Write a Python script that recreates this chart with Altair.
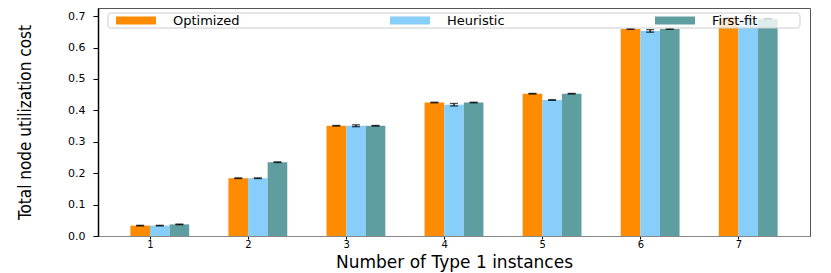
import altair as alt
import pandas as pd

instances = [1, 2, 3, 4, 5, 6, 7]
series = ["Optimized", "Heuristic", "First-fit"]
colors = ["#FF8C00", "#87CEFA", "#5F9EA0"]

optimized = [0.033, 0.184, 0.351, 0.425, 0.453, 0.659, 0.694]
heuristic = [0.033, 0.184, 0.351, 0.418, 0.433, 0.653, 0.690]
first_fit = [0.037, 0.235, 0.351, 0.425, 0.453, 0.659, 0.692]

err_optimized = [0.001, 0.001, 0.001, 0.001, 0.001, 0.001, 0.001]
err_heuristic = [0.001, 0.001, 0.003, 0.004, 0.001, 0.004, 0.001]
err_first_fit = [0.001, 0.001, 0.001, 0.001, 0.001, 0.001, 0.001]

y_ticks = [0.0, 0.1, 0.2, 0.3, 0.4, 0.5, 0.6, 0.7]

rows = []
for si, (name, vals, errs) in enumerate(zip(series, [optimized, heuristic, first_fit],
                                            [err_optimized, err_heuristic, err_first_fit])):
    for n, v, e in zip(instances, vals, errs):
        rows.append({"n": n, "series": name, "idx": si, "value": v, "err": e})
df = pd.DataFrame(rows)

base = alt.Chart(df).transform_calculate(
    x0="datum.n + (datum.idx - 1) * 0.2",
    x1="datum.n + datum.idx * 0.2",
    xc="datum.n + (datum.idx - 0.5) * 0.2",
    lo="datum.value - datum.err",
    hi="datum.value + datum.err",
    zero="0",
)

xscale = alt.Scale(domain=[0.47, 7.73], nice=False, zero=False)
yscale = alt.Scale(domain=[0, 0.726], nice=False)

xaxis = alt.Axis(values=instances, format="d", title="Number of Type 1 instances",
                 grid=False, tickSize=3, labelFontSize=10, labelPadding=0,
                 titleFontSize=17, titleFont="DejaVu Sans", titleFontWeight="normal",
                 titleColor="#000", titleY=31, titleBaseline="alphabetic",
                 domainColor="#888", tickColor="#000",
                 labelFont="DejaVu Sans", labelColor="#000")
yaxis = alt.Axis(values=y_ticks, format=".1f", title="Total node utilization cost",
                 grid=False, tickSize=5, labelFontSize=11, labelPadding=8,
                 labelFont="DejaVu Sans", labelColor="#000", labelOverlap=False,
                 titleFont="Liberation Sans Narrow, DejaVu Sans Condensed, sans-serif",
                 titleFontSize=17, titleFontWeight="normal", titleColor="#000",
                 titleX=-64, titleY=114, titleAngle=270, titleBaseline="bottom",
                 titleAlign="center",
                 domainColor="#000", domainWidth=1.5, tickColor="#000")

bars = base.mark_rect().encode(
    x=alt.X("x0:Q", scale=xscale, axis=xaxis),
    x2="x1:Q",
    y=alt.Y("value:Q", scale=yscale, axis=yaxis),
    y2="zero:Q",
    color=alt.Color("series:N", scale=alt.Scale(domain=series, range=colors),
                    legend=alt.Legend(title=None, orient="none", legendX=18, legendY=-7.5,
                                      direction="horizontal", columns=3, columnPadding=150,
                                      symbolType="M-1,-0.2H1V0.2H-1Z", symbolSize=1600,
                                      symbolStrokeWidth=0, symbolOpacity=1, symbolOffset=0,
                                      labelFontSize=13, labelFont="DejaVu Sans", labelOffset=17,
                                      labelColor="#000", padding=0)),
)

errs = base.mark_rule(color="black", strokeWidth=1.2).encode(
    x=alt.X("xc:Q", scale=xscale, axis=xaxis),
    y=alt.Y("lo:Q", scale=yscale, axis=yaxis),
    y2="hi:Q",
)
cap_hi = base.mark_tick(color="black", orient="horizontal", size=8, thickness=1.3).encode(
    x=alt.X("xc:Q", scale=xscale, axis=xaxis),
    y=alt.Y("hi:Q", scale=yscale, axis=yaxis),
)
cap_lo = base.mark_tick(color="black", orient="horizontal", size=8, thickness=1.3).encode(
    x=alt.X("xc:Q", scale=xscale, axis=xaxis),
    y=alt.Y("lo:Q", scale=yscale, axis=yaxis),
)

legend_box = alt.Chart(pd.DataFrame({"box": [0]})).mark_rect(
    fill="white", fillOpacity=0.8, stroke="#ccc", strokeWidth=1, cornerRadius=3
).encode(
    x=alt.value(10), x2=alt.value(702), y=alt.value(5), y2=alt.value(20)
)

chart = alt.layer(bars, errs, cap_hi, cap_lo, legend_box).properties(
    width=712, height=228,
    autosize=alt.AutoSizeParams(type="none"),
    padding={"left": 90, "top": 0, "right": 13, "bottom": 37},
).configure_view(stroke="#555", strokeWidth=1)

chart.save("out.html", embed_options={"renderer": "svg", "actions": False})
